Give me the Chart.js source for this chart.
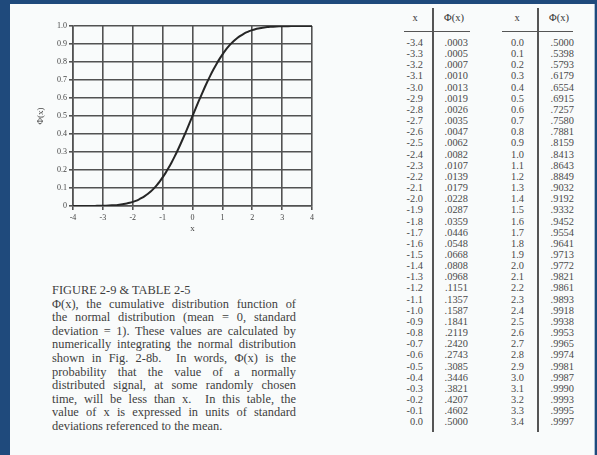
<!DOCTYPE html>
<html>
<head>
<meta charset="utf-8">
<script src="https://cdn.jsdelivr.net/npm/chart.js@4.4.1/dist/chart.umd.min.js"></script>
<style>
  html, body { margin: 0; padding: 0; }
  body { width: 597px; height: 455px; background: #1f4a7c; position: relative; overflow: hidden;
         font-family: "Liberation Serif", "DejaVu Serif", serif; }
  #panel { position: absolute; left: 10px; top: 4px; width: 584px; height: 451px; background: #f9fbfb;
           border-right: 1px solid #a9bfd6; }
  #chart { position: absolute; left: 0; top: 0; }
  .cap { position: absolute; left: 52px; width: 244px; font-size: 12.4px; line-height: 13.6px; color: #3e3e3e; }
  .cap div { text-align: justify; text-align-last: justify; white-space: nowrap; }
  .cap div.last { text-align-last: left; }
  .col { position: absolute; font-size: 10.4px; line-height: 11.15px; color: #4a4a4a; text-align: right; }
  .hd { position: absolute; font-size: 10.5px; color: #333; transform: translateX(-50%); top: 12px; }
  .vline { position: absolute; width: 1.6px; background: #555; top: 8px; height: 424px; }
  .hline { position: absolute; height: 1.4px; background: #555; top: 31px; }
</style>
</head>
<body>
<div id="panel"></div>
<canvas id="chart" width="330" height="250"></canvas>

<div class="cap" style="top:284px">
  <div class="last">FIGURE 2-9 &amp; TABLE 2-5</div>
  <div>Φ(x), the cumulative distribution function of</div>
  <div>the normal distribution (mean = 0, standard</div>
  <div>deviation = 1). These values are calculated by</div>
  <div>numerically integrating the normal distribution</div>
  <div>shown in Fig. 2-8b. &nbsp;In words, Φ(x) is the</div>
  <div>probability that the value of a normally</div>
  <div>distributed signal, at some randomly chosen</div>
  <div>time, will be less than x. &nbsp;In this table, the</div>
  <div>value of x is expressed in units of standard</div>
  <div class="last">deviations referenced to the mean.</div>
</div>

<div class="hd" style="left:415px">x</div>
<div class="hd" style="left:454px">Φ(x)</div>
<div class="hd" style="left:517px">x</div>
<div class="hd" style="left:559px">Φ(x)</div>
<div class="hline" style="left:404px;width:66px"></div>
<div class="hline" style="left:502px;width:71px"></div>
<div class="vline" style="left:432px"></div>
<div class="vline" style="left:537px"></div>

<div class="col" id="col-x1"></div>
<div class="col" id="col-p1"></div>
<div class="col" id="col-x2"></div>
<div class="col" id="col-p2"></div>

<script>
/* ── Table 2-5 values ── */
const xLeft = [-3.4, -3.3, -3.2, -3.1, -3.0, -2.9, -2.8, -2.7, -2.6, -2.5, -2.4, -2.3, -2.2, -2.1, -2.0,
               -1.9, -1.8, -1.7, -1.6, -1.5, -1.4, -1.3, -1.2, -1.1, -1.0, -0.9, -0.8, -0.7, -0.6, -0.5,
               -0.4, -0.3, -0.2, -0.1, 0.0];
const phiLeft = [.0003, .0005, .0007, .0010, .0013, .0019, .0026, .0035, .0047, .0062, .0082, .0107, .0139,
                 .0179, .0228, .0287, .0359, .0446, .0548, .0668, .0808, .0968, .1151, .1357, .1587, .1841,
                 .2119, .2420, .2743, .3085, .3446, .3821, .4207, .4602, .5000];
const xRight = [0.0, 0.1, 0.2, 0.3, 0.4, 0.5, 0.6, 0.7, 0.8, 0.9, 1.0, 1.1, 1.2, 1.3, 1.4, 1.5, 1.6, 1.7,
                1.8, 1.9, 2.0, 2.1, 2.2, 2.3, 2.4, 2.5, 2.6, 2.7, 2.8, 2.9, 3.0, 3.1, 3.2, 3.3, 3.4];
const phiRight = [.5000, .5398, .5793, .6179, .6554, .6915, .7257, .7580, .7881, .8159, .8413, .8643, .8849,
                  .9032, .9192, .9332, .9452, .9554, .9641, .9713, .9772, .9821, .9861, .9893, .9918, .9938,
                  .9953, .9965, .9974, .9981, .9987, .9990, .9993, .9995, .9997];

/* curve ends, outside the table range */
const xEnds = [-4, 4];
const phiEnds = [0, 1];

/* axis ticks */
const xTicks = [-4, -3, -2, -1, 0, 1, 2, 3, 4];
const yTicks = [0, 0.1, 0.2, 0.3, 0.4, 0.5, 0.6, 0.7, 0.8, 0.9, 1.0];

/* ── Table columns ── */
const fmtPhi = v => v.toFixed(4).replace(/^0/, '');
function fillCol(id, values, fmt, right) {
  const el = document.getElementById(id);
  el.style.right = (597 - right) + 'px';
  el.style.top = '37px';
  el.innerHTML = values.map(v => '<div>' + fmt(v) + '</div>').join('');
}
fillCol('col-x1', xLeft, v => v.toFixed(1), 423);
fillCol('col-p1', phiLeft, fmtPhi, 468);
fillCol('col-x2', xRight, v => v.toFixed(1), 524);
fillCol('col-p2', phiRight, fmtPhi, 574);

/* ── Curve ── */
const points = [{ x: xEnds[0], y: phiEnds[0] }];
xLeft.forEach((x, i) => points.push({ x, y: phiLeft[i] }));
xRight.forEach((x, i) => { if (i > 0) points.push({ x, y: phiRight[i] }); });
points.push({ x: xEnds[1], y: phiEnds[1] });

const gridColor = '#525252';
const tickFont = { family: '"Liberation Serif", serif', size: 8 };

new Chart(document.getElementById('chart'), {
  type: 'scatter',
  data: {
    datasets: [{
      data: points,
      showLine: true,
      borderColor: '#262626',
      borderWidth: 2,
      pointRadius: 0,
      cubicInterpolationMode: 'monotone'
    }]
  },
  options: {
    responsive: false,
    animation: false,
    events: [],
    layout: { padding: { top: 26, right: 18, bottom: 14, left: 0 } },
    plugins: { legend: { display: false }, tooltip: { enabled: false } },
    scales: {
      x: {
        type: 'linear',
        min: xTicks[0],
        max: xTicks[xTicks.length - 1],
        afterFit: s => { s.height = 30; },
        afterBuildTicks: s => { s.ticks = xTicks.map(v => ({ value: v })); },
        grid: { color: gridColor, lineWidth: 1.6, tickLength: 4 },
        border: { color: gridColor, width: 1.6 },
        ticks: { color: '#444', font: tickFont, padding: 3, maxRotation: 0, callback: v => String(v) },
        title: { display: true, text: 'x', color: '#444', font: { family: '"Liberation Serif", serif', size: 9 },
                 padding: { top: 0, bottom: 2 } }
      },
      y: {
        type: 'linear',
        min: 0,
        max: 1,
        afterFit: s => { s.width = 73; },
        afterBuildTicks: s => { s.ticks = yTicks.map(v => ({ value: v })); },
        grid: { color: gridColor, lineWidth: 1.6, tickLength: 4 },
        border: { color: gridColor, width: 1.6 },
        ticks: { color: '#444', font: tickFont, padding: 2, callback: v => v === 0 ? '0' : v.toFixed(1) },
        title: { display: true, text: 'Φ(x)', color: '#444', font: { family: '"Liberation Serif", serif', size: 9 },
                 padding: { top: 35, bottom: 0 } }
      }
    }
  }
});
</script>
</body>
</html>
